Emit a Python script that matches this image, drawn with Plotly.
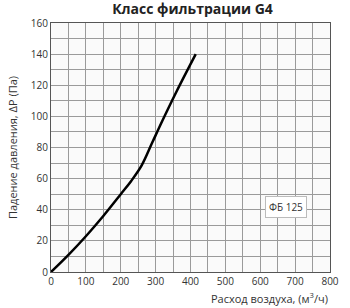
import plotly.graph_objects as go

flow = [0, 50, 100, 150, 200, 230, 260, 290, 320, 360, 415]
pressure = [0, 11, 23, 36, 50, 58.5, 68.5, 83, 97.5, 116, 140]
x_ticks = [0, 100, 200, 300, 400, 500, 600, 700, 800]
y_ticks = [0, 20, 40, 60, 80, 100, 120, 140, 160]

fig = go.Figure()
fig.add_trace(go.Scatter(x=flow, y=pressure, mode="lines",
                         line=dict(color="black", width=2.5, shape="spline", smoothing=1.0),
                         showlegend=False))

fig.add_annotation(x=673, y=42, text="ФБ 125", showarrow=False,
                   font=dict(size=10, color="#333"), bgcolor="white",
                   bordercolor="#bbb", borderwidth=1, borderpad=3)

fig.add_annotation(x=1, xref="paper", y=-0.104, yref="paper", xanchor="right", yanchor="middle",
                   text="Расход воздуха, (м<sup>3</sup>/ч)", showarrow=False,
                   font=dict(size=11, color="#333"))

fig.update_layout(
    width=350, height=308,
    margin=dict(l=51, r=11, t=23, b=36),
    paper_bgcolor="white", plot_bgcolor="#fafafa",
    font=dict(family="Open Sans", size=10, color="#333"),
    title=dict(text="<b>Класс фильтрации G4</b>", x=0.55, xanchor="center",
               y=0.985, yanchor="top", font=dict(size=14, color="#222")),
    xaxis=dict(range=[0, 800], tickvals=x_ticks,
               showgrid=True, gridcolor="#9a9a9a", gridwidth=1,
               showline=True, linecolor="#555", linewidth=1, mirror=True,
               zeroline=False, ticks="", ticklen=0, tickfont=dict(size=10, color="#333")),
    yaxis=dict(range=[0, 160], tickvals=y_ticks,
               showgrid=True, gridcolor="#9a9a9a", gridwidth=1,
               showline=True, linecolor="#555", linewidth=1, mirror=True,
               zeroline=False, ticks="", tickfont=dict(size=10, color="#333"),
               title=dict(text="Падение давления, ΔР (Па)", font=dict(size=11, color="#333"),
                          standoff=10)),
)
fig.update_xaxes(minor=dict(dtick=50, showgrid=True, gridcolor="#9a9a9a", gridwidth=1))
fig.update_yaxes(minor=dict(dtick=10, showgrid=True, gridcolor="#9a9a9a", gridwidth=1))

fig.write_html("out.html")
